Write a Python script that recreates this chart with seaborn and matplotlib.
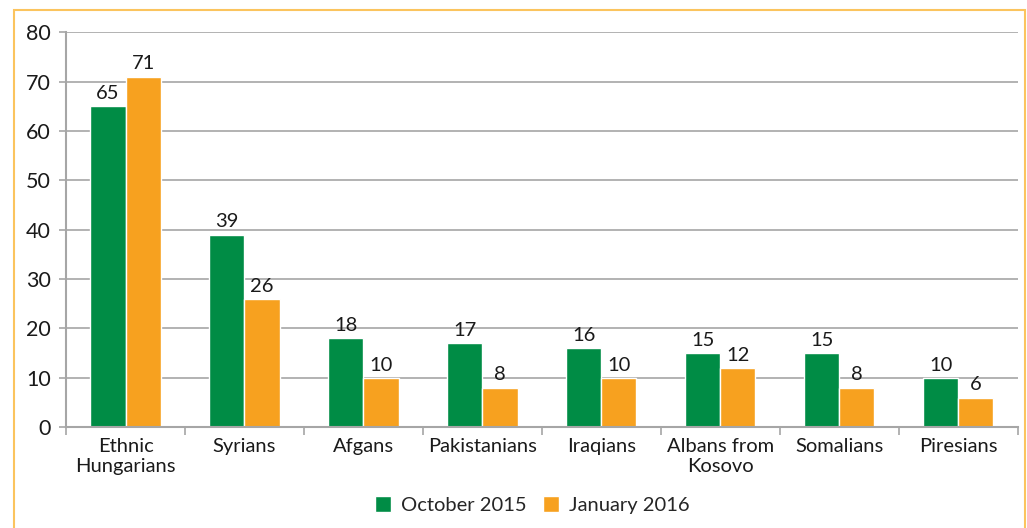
import seaborn as sns
import numpy as np
import matplotlib.pyplot as plt
import pandas as pd
from matplotlib.patches import Rectangle

# data
categories = ["Ethnic\nHungarians", "Syrians", "Afgans", "Pakistanians",
              "Iraqians", "Albans from\nKosovo", "Somalians", "Piresians"]
october_2015 = [65, 39, 18, 17, 16, 15, 15, 10]
january_2016 = [71, 26, 10, 8, 10, 12, 8, 6]
series_names = ["October 2015", "January 2016"]

GREEN = "#008C45"
ORANGE = "#F7A11F"
GRID = "#A6A6A6"
FS = 14.5

df = pd.DataFrame({
    "category": categories * 2,
    "value": october_2015 + january_2016,
    "series": [series_names[0]] * len(categories) + [series_names[1]] * len(categories),
})

sns.set_theme(style="white")
plt.rcParams['font.family'] = ['Lato', 'DejaVu Sans']

fig = plt.figure(figsize=(10.27, 5.28), dpi=100)
ax = fig.add_axes([0.0643, 0.191, 0.9267, 0.748])

sns.barplot(data=df, x="category", y="value", hue="series",
            palette=[GREEN, ORANGE], width=0.59, ax=ax,
            edgecolor="white", linewidth=1, saturation=1)

# value labels
for cont in ax.containers:
    ax.bar_label(cont, fontsize=FS, padding=3, color="#1a1a1a")

ax.set_ylim(0, 80)
ax.set_yticks(np.arange(0, 81, 10))
ax.set_xlim(-0.5, len(categories) - 0.5)
ax.yaxis.grid(True, color=GRID, linewidth=1.2)
ax.set_axisbelow(True)
ax.set_xlabel("")
ax.set_ylabel("")

for side in ["top", "right"]:
    ax.spines[side].set_visible(False)
for side in ["left", "bottom"]:
    ax.spines[side].set_color(GRID)
    ax.spines[side].set_linewidth(1.5)

ax.tick_params(axis="y", labelsize=FS + 1, length=5, color=GRID, width=1.2,
               left=True, labelcolor="#1a1a1a", pad=6)
ax.tick_params(axis="x", labelsize=FS, length=0, labelcolor="#1a1a1a", pad=8)
# ticks between categories
ax.set_xticks(np.arange(-0.5, len(categories), 1), minor=True)
ax.tick_params(axis="x", which="minor", length=6, color=GRID, width=1.2, bottom=True)

ax.legend(loc="center", bbox_to_anchor=(0.49, -0.197), ncol=2,
          frameon=False, fontsize=FS, handlelength=0.8, handleheight=0.8,
          columnspacing=0.8, handletextpad=0.5)

# outer orange frame
fig.patches.append(Rectangle((14 / 1027, -0.05), (1025 - 14) / 1027, 1.05 - 10 / 528,
                             transform=fig.transFigure, fill=False,
                             edgecolor="#FBC45E", linewidth=1.5))

fig.savefig("out.png", dpi=100)
